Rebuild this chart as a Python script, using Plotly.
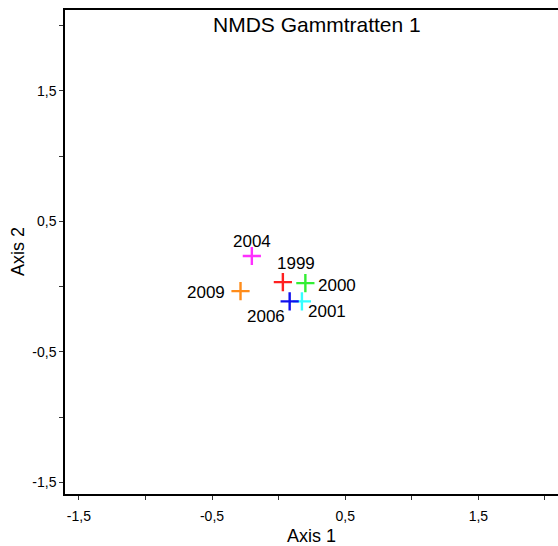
import plotly.graph_objects as go

years = ["1999", "2000", "2001", "2006", "2009", "2004"]
axis1 = [0.032, 0.201, 0.175, 0.083, -0.286, -0.201]
axis2 = [0.034, 0.026, -0.114, -0.114, -0.035, 0.234]
colors = ["#ff2020", "#33ee33", "#33ffff", "#1010ee", "#ff8c1a", "#ff30ff"]
label_dx = [13, 32, 25, -24, -35, 0]
label_dy = [19, -2, -10, -15, -1, 14]

tick_vals = [-1.5, -1.0, -0.5, 0.0, 0.5, 1.0, 1.5, 2.0]
tick_text = ["-1,5", "", "-0,5", "", "0,5", "", "1,5", ""]

font = "Liberation Sans, Arial, sans-serif"

fig = go.Figure()
fig.add_trace(go.Scatter(
    x=axis1, y=axis2, mode="markers",
    marker=dict(symbol="cross-thin", size=13, color=colors,
                line=dict(width=2.4, color=colors)),
    hoverinfo="text", text=years, showlegend=False,
))

anns = []
for yr, x, y, dx, dy in zip(years, axis1, axis2, label_dx, label_dy):
    anns.append(dict(x=x, y=y, xref="x", yref="y", text=yr, showarrow=False,
                     xshift=dx, yshift=dy, font=dict(family=font, size=17, color="black")))
anns.append(dict(x=0.512, y=1 - 14 / 484, xref="paper", yref="paper",
                 text="NMDS Gammtratten 1", showarrow=False, yanchor="middle",
                 font=dict(family=font, size=21, color="black")))
anns.append(dict(x=0.5, y=-42 / 484, xref="paper", yref="paper",
                 text="Axis 1", showarrow=False, yanchor="middle",
                 font=dict(family=font, size=18, color="black")))
anns.append(dict(x=-47 / 493, y=0.5, xref="paper", yref="paper",
                 text="Axis 2", showarrow=False, textangle=-90, xanchor="center",
                 yanchor="middle", font=dict(family=font, size=18, color="black")))

fig.update_layout(
    width=558, height=546,
    margin=dict(l=65, r=0, t=10, b=52),
    paper_bgcolor="white", plot_bgcolor="white",
    annotations=anns,
    xaxis=dict(range=[-1.604, 2.098], tickvals=tick_vals, ticktext=tick_text,
               showgrid=False, zeroline=False, showline=True, linecolor="black",
               linewidth=1.5, mirror=True, ticks="outside", ticklen=4, tickcolor="#333",
               ticklabelstandoff=4,
               tickfont=dict(family=font, size=14, color="black")),
    yaxis=dict(range=[-1.590, 2.119], tickvals=tick_vals, ticktext=tick_text,
               showgrid=False, zeroline=False, showline=True, linecolor="black",
               linewidth=1.5, ticks="outside", ticklen=4, tickcolor="#333",
               tickfont=dict(family=font, size=14, color="black")),
)

fig.write_html("out.html")
